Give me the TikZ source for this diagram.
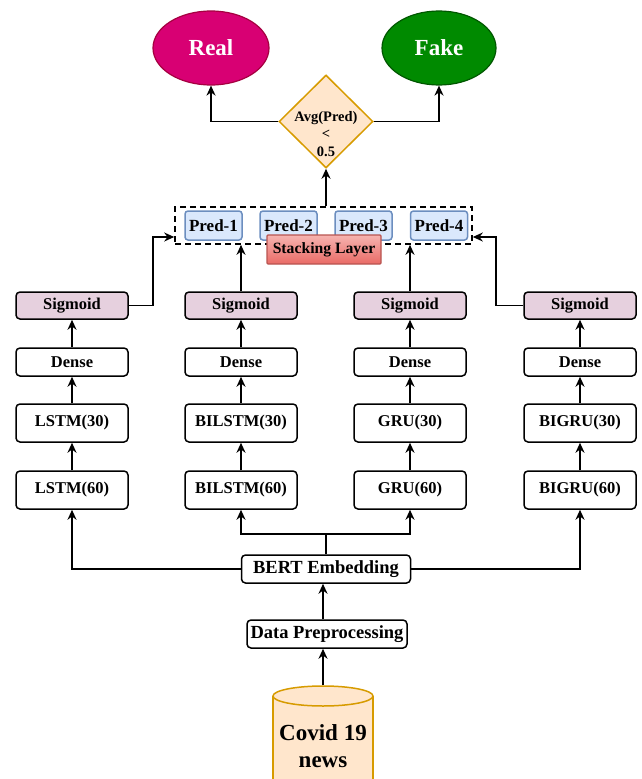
\documentclass[tikz,border=0pt]{standalone}
\usepackage{fontspec}
\setmainfont{Liberation Serif}
\usetikzlibrary{shapes.geometric,arrows.meta}
\definecolor{realc}{HTML}{D80073}
\definecolor{realb}{HTML}{A50040}
\definecolor{fakec}{HTML}{008A00}
\definecolor{fakeb}{HTML}{005700}
\definecolor{orf}{HTML}{FFE6CC}
\definecolor{orb}{HTML}{D79B00}
\definecolor{bluef}{HTML}{DAE8FC}
\definecolor{blueb}{HTML}{6C8EBF}
\definecolor{sigf}{HTML}{E6D0DE}
\definecolor{redt}{HTML}{F6B3B0}
\definecolor{redb}{HTML}{EA6B66}
\definecolor{redd}{HTML}{B85450}
\begin{document}
\begin{tikzpicture}[x=1pt,y=-1pt,
  arr/.style={line width=1.9pt,-{Stealth[length=10pt,width=9pt]}},
  ln/.style={line width=1.9pt},
  box/.style={draw=black,line width=1.5pt,rounded corners=4pt,fill=white,
    minimum width=112pt,inner sep=0pt,font=\bfseries\fontsize{16.5}{19}\selectfont},
  sigbox/.style={box,fill=sigf,minimum height=27pt},
  densebox/.style={box,minimum height=28pt},
  rnnbox/.style={box,minimum height=38pt},
  predbox/.style={draw=blueb,fill=bluef,line width=1.5pt,rounded corners=3pt,
    minimum width=57pt,minimum height=29pt,inner sep=0pt,
    font=\bfseries\fontsize{17}{19}\selectfont},
  bigbox/.style={box,minimum height=28pt,font=\bfseries\fontsize{18.5}{21}\selectfont}
]
\useasboundingbox (0,0) rectangle (641,779);

% outputs
\node[ellipse,draw=realb,fill=realc,line width=1.2pt,minimum width=116pt,minimum height=74pt,
  text=white,font=\bfseries\fontsize{23}{26}\selectfont] (real) at (211,48) {Real};
\node[ellipse,draw=fakeb,fill=fakec,line width=1.2pt,minimum width=114pt,minimum height=74pt,
  text=white,font=\bfseries\fontsize{23}{26}\selectfont] (fake) at (439,48) {Fake};
\node[diamond,draw=orb,fill=orf,line width=1.5pt,minimum width=94pt,minimum height=93pt,
  inner sep=0pt] (dia) at (326,121.5) {};
\node[align=center,inner sep=0pt,font=\bfseries\fontsize{14.5}{17.5}\selectfont] (diatext) at (326,134)
  {Avg(Pred)\\<\\0.5};

% stacking layer
\node[draw=black,dashed,dash pattern=on 6pt off 4pt,line width=1.6pt,minimum width=297pt,minimum height=37pt,inner sep=0pt]
  (sbox) at (323.5,225.5) {};
\node[predbox] (p1) at (213.5,225.5) {Pred-1};
\node[predbox] (p2) at (288.5,225.5) {Pred-2};
\node[predbox] (p3) at (363.5,225.5) {Pred-3};
\node[predbox] (p4) at (439,225.5) {Pred-4};
\node[draw=redd,top color=redt,bottom color=redb,line width=1.3pt,rounded corners=1pt,
  minimum width=114pt,minimum height=29pt,inner sep=0pt,
  font=\bfseries\fontsize{15.7}{18}\selectfont] (stack) at (324,249.5) {Stacking Layer};
\coordinate (inL) at ([yshift=-11.5pt]sbox.west);
\coordinate (inR) at ([yshift=-11.5pt]sbox.east);

% columns
\node[sigbox] (s1) at (72,305.5) {Sigmoid};
\node[densebox] (d1) at (72,362) {Dense};
\node[rnnbox] (a1) at (72,423) {LSTM(30)};
\node[rnnbox] (b1) at (72,490) {LSTM(60)};

\node[sigbox] (s2) at (241,305.5) {Sigmoid};
\node[densebox] (d2) at (241,362) {Dense};
\node[rnnbox] (a2) at (241,423) {BILSTM(30)};
\node[rnnbox] (b2) at (241,490) {BILSTM(60)};

\node[sigbox] (s3) at (410,305.5) {Sigmoid};
\node[densebox] (d3) at (410,362) {Dense};
\node[rnnbox] (a3) at (410,423) {GRU(30)};
\node[rnnbox] (b3) at (410,490) {GRU(60)};

\node[sigbox] (s4) at (580,305.5) {Sigmoid};
\node[densebox] (d4) at (580,362) {Dense};
\node[rnnbox] (a4) at (580,423) {BIGRU(30)};
\node[rnnbox] (b4) at (580,490) {BIGRU(60)};

% bottom
\node[bigbox,minimum width=169pt] (bert) at (326,569) {BERT Embedding};
\node[bigbox,minimum width=160pt] (dp) at (327,634) {Data Preprocessing};
\fill[orf] (273,696) rectangle (373,800);
\draw[orb,line width=1.5pt] (273,696) -- (273,800) (373,696) -- (373,800);
\node[ellipse,draw=orb,fill=orf,line width=1.5pt,minimum width=100pt,minimum height=20pt,inner sep=0pt]
  (cyl) at (323,696) {};
\node[align=center,font=\bfseries\fontsize{23}{27}\selectfont] (covid) at (323,746) {Covid 19\\news};

% connectors
\draw[arr] (cyl.north) -- (cyl.north |- dp.south);
\draw[arr] (cyl.north |- dp.north) -- (cyl.north |- bert.south);
\coordinate (sp) at ([yshift=20pt]bert.north);
\draw[ln] (bert.north) -- (sp);
\draw[arr] (sp) -| (b2.south);
\draw[arr] (sp) -| (b3.south);
\draw[arr] (bert.west) -| (b1.south);
\draw[arr] (bert.east) -| (b4.south);

\foreach \i in {1,2,3,4}{
  \draw[arr] (b\i.north) -- (a\i.south);
  \draw[arr] (a\i.north) -- (d\i.south);
  \draw[arr] (d\i.north) -- (s\i.south);
}
\draw[arr] (s1.east) -- ++(24,0) |- (inL);
\draw[arr] (s4.west) -- ++(-27,0) |- (inR);
\draw[arr] (s2.north) -- (s2.north |- sbox.south);
\draw[arr] (s3.north) -- (s3.north |- sbox.south);

\draw[arr] (dia.south |- sbox.north) -- (dia.south);
\draw[arr] (dia.west) -| (real.south);
\draw[arr] (dia.east) -| (fake.south);
\end{tikzpicture}
\end{document}
